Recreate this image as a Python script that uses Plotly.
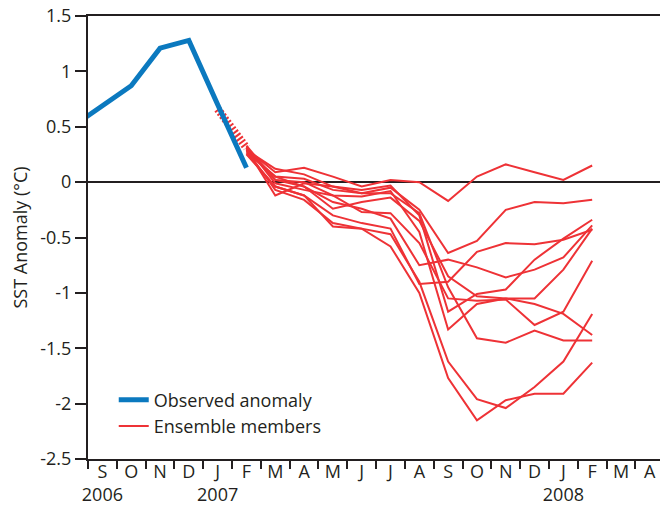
import plotly.graph_objects as go

# ---------------- data ----------------
month_letters = ["S", "O", "N", "D", "J", "F", "M", "A", "M", "J",
                 "J", "A", "S", "O", "N", "D", "J", "F", "M", "A"]
axis_start = "2006-09"            # first labelled month
year_labels = {"2006-09": "2006", "2007-01": "2007", "2008-01": "2008"}

obs_months = ["2006-08", "2006-09", "2006-10", "2006-11", "2006-12", "2007-01", "2007-02"]
obs_values = [0.51, 0.69, 0.87, 1.21, 1.28, 0.70, 0.13]

spinup_months = ["2007-01", "2007-02"]
spinup_values = [0.66, 0.31]

ens_months = ["2007-02", "2007-03", "2007-04", "2007-05", "2007-06", "2007-07", "2007-08",
              "2007-09", "2007-10", "2007-11", "2007-12", "2008-01", "2008-02"]
member_01 = [0.30, 0.09, 0.13, 0.05, -0.04, 0.02, 0.00, -0.17, 0.05, 0.16, 0.09, 0.02, 0.15]
member_02 = [0.28, 0.05, 0.03, -0.07, -0.10, -0.05, -0.25, -0.64, -0.53, -0.25, -0.18, -0.19, -0.16]
member_03 = [0.31, 0.02, -0.04, -0.18, -0.24, -0.33, -0.75, -0.70, -0.77, -0.86, -0.79, -0.68, -0.39]
member_04 = [0.26, -0.04, -0.12, -0.30, -0.37, -0.42, -0.92, -0.90, -0.63, -0.55, -0.56, -0.52, -0.43]
member_05 = [0.29, 0.12, 0.07, -0.04, -0.07, -0.03, -0.30, -1.17, -1.01, -0.97, -0.70, -0.51, -0.34]
member_06 = [0.32, -0.01, -0.07, -0.12, -0.13, -0.08, -0.45, -1.33, -1.10, -1.05, -1.05, -0.79, -0.42]
member_07 = [0.30, -0.12, -0.01, -0.04, -0.10, -0.10, -0.28, -0.95, -1.41, -1.45, -1.34, -1.43, -1.43]
member_08 = [0.27, 0.05, -0.04, -0.24, -0.18, -0.14, -0.35, -0.85, -1.03, -1.05, -1.10, -1.19, -1.38]
member_09 = [0.29, -0.07, -0.16, -0.37, -0.42, -0.47, -0.90, -1.62, -1.96, -2.04, -1.85, -1.62, -1.19]
member_10 = [0.25, -0.04, -0.12, -0.40, -0.42, -0.58, -1.00, -1.77, -2.15, -1.97, -1.91, -1.91, -1.63]
member_11 = [0.33, 0.02, 0.00, -0.12, -0.27, -0.28, -0.55, -1.05, -1.07, -1.06, -1.29, -1.17, -0.71]
members = [member_01, member_02, member_03, member_04, member_05, member_06,
           member_07, member_08, member_09, member_10, member_11]

# ---------------- helpers ----------------
def month_index(ym):
    y0, m0 = map(int, axis_start.split("-"))
    y, m = map(int, ym.split("-"))
    return (y - y0) * 12 + (m - m0)

BLUE = "#0b79bf"
RED = "#ee3236"
INK = "#231f20"
FONT = "Open Sans"

n = len(month_letters)
centers = list(range(n))
bounds = [i - 0.5 for i in range(n + 1)]
ticktext = []
for i, lab in enumerate(month_letters):
    y, m = 2006 + (8 + i) // 12, (8 + i) % 12 + 1
    key = f"{y}-{m:02d}"
    ticktext.append(lab + ("<br>" + year_labels[key] if key in year_labels else "<br> "))

fig = go.Figure()

for k, vals in enumerate(members):
    fig.add_trace(go.Scatter(
        x=[month_index(m) for m in ens_months], y=vals, mode="lines",
        line=dict(color=RED, width=2), name="Ensemble members",
        legendgroup="ens", showlegend=(k == 0), legendrank=2))

fig.add_trace(go.Scatter(
    x=[month_index(m) for m in spinup_months], y=spinup_values, mode="lines",
    line=dict(color=RED, width=8, dash="2px,2px"), showlegend=False, hoverinfo="skip"))

fig.add_trace(go.Scatter(
    x=[month_index(m) for m in obs_months], y=obs_values, mode="lines",
    line=dict(color=BLUE, width=5), name="Observed anomaly",
    legendgroup="obs", legendrank=1))

fig.update_layout(
    width=660, height=506,
    margin=dict(l=88, r=0, t=16, b=47, autoexpand=False),
    paper_bgcolor="white", plot_bgcolor="white",
    font=dict(family=FONT, size=18, color=INK),
    showlegend=True,
    legend=dict(x=0.045, y=0.175, xanchor="left", yanchor="top",
                bgcolor="rgba(0,0,0,0)", font=dict(size=18, color=INK),
                tracegroupgap=0, itemwidth=30),
    xaxis=dict(range=[-0.5, 19.354], tickmode="array", tickvals=centers, ticktext=ticktext,
               ticks="", tickangle=0, ticklabelstandoff=-5, ticklabeloverflow="allow",
               showgrid=False, zeroline=False, automargin=False,
               showline=True, linecolor=INK, linewidth=2, mirror=True,
               tickfont=dict(size=18, color=INK), fixedrange=True,
               minor=dict(tickmode="array", tickvals=bounds, ticks="outside",
                          ticklen=8, tickwidth=2, tickcolor=INK, showgrid=False)),
    yaxis=dict(range=[-2.5, 1.5], tickmode="array",
               tickvals=[-2.5, -2, -1.5, -1, -0.5, 0, 0.5, 1, 1.5],
               ticktext=["-2.5", "-2", "-1.5", "-1", "-0.5", "0", "0.5", "1", "1.5"],
               ticks="outside", ticklen=11, tickwidth=2, tickcolor=INK, automargin=False,
               ticklabeloverflow="allow",
               showgrid=False, zeroline=True, zerolinecolor=INK, zerolinewidth=2,
               showline=True, linecolor=INK, linewidth=2,
               tickfont=dict(size=18, color=INK), fixedrange=True,
               title=dict(text="SST Anomaly (°C)", standoff=8,
                          font=dict(size=18, color=INK))),
)

# remove the browser's default page margin so the figure fills the window exactly
fig.write_html("out.html",
               config={"displayModeBar": False},
               post_script="document.body.style.margin='0';document.body.style.overflow='hidden';")
